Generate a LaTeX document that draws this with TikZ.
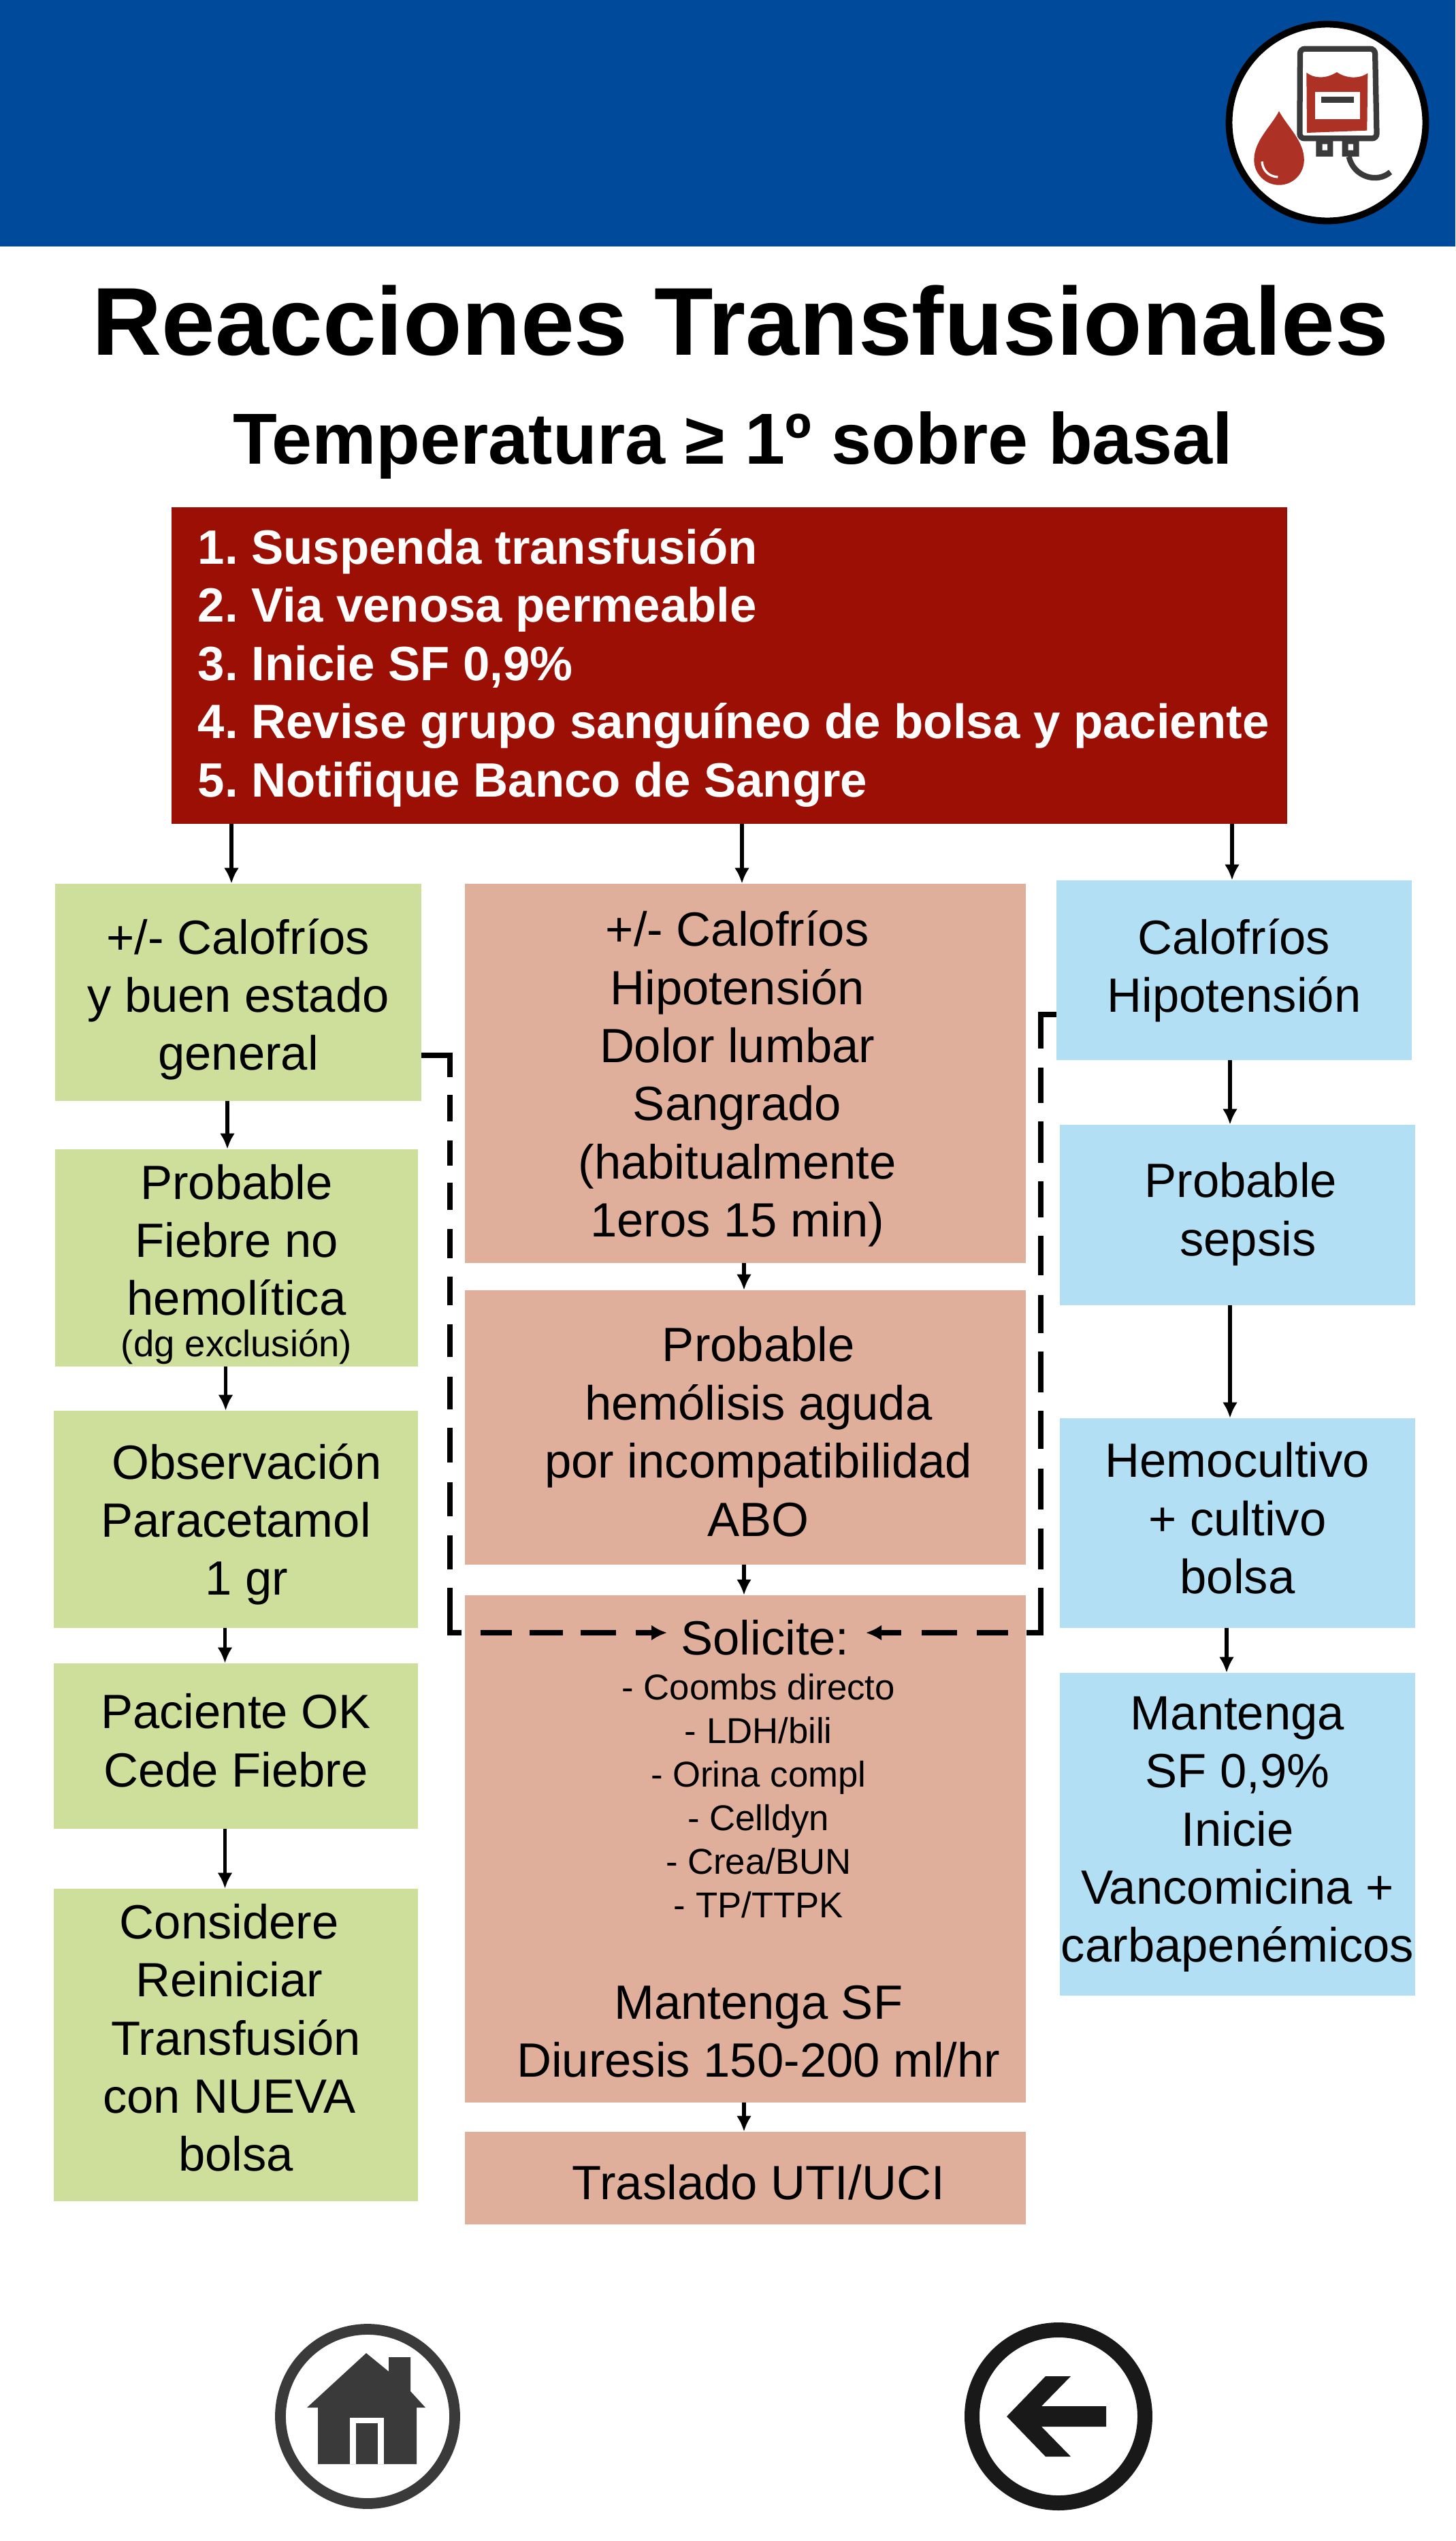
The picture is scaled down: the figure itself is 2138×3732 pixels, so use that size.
\documentclass[tikz,border=0pt]{standalone}
\usepackage{fontspec}
\setmainfont{Liberation Sans}
\frenchspacing
\usetikzlibrary{arrows.meta,positioning,calc}
\definecolor{headblue}{HTML}{004A9B}
\definecolor{redbox}{HTML}{9B0F05}
\definecolor{grnbox}{HTML}{CEDF9B}
\definecolor{salbox}{HTML}{E0AF9B}
\definecolor{blubox}{HTML}{B2DFF4}
\definecolor{iconred}{HTML}{AD3125}
\definecolor{icondark}{HTML}{3A3A3A}
\newcommand{\shft}[3]{\hspace*{#1}\raisebox{#2}[\height][\depth]{\begin{tabular}{@{}c@{}}#3\end{tabular}}}
\newcommand{\lst}{\fontsize{30}{36.4}\selectfont}
\begin{document}
\begin{tikzpicture}[x=.02cm,y=-.02cm,>=Latex,
 box/.style={inner sep=0pt,align=center,font=\fontsize{40.2}{48.6}\selectfont},
 grn/.style={box,fill=grnbox},
 sal/.style={box,fill=salbox},
 blu/.style={box,fill=blubox},
 arr/.style={->,line width=3.3pt,>={Latex[length=.46cm,width=.44cm]}},
 dsh/.style={->,line width=4.7pt,>={Latex[length=.46cm,width=.46cm]}},
 dshl/.style={dsh,dash pattern=on 1.48cm off .52cm on .78cm off .56cm on .74cm off .5cm on .8cm off .56cm on .86cm off .54cm on .84cm off .56cm on .96cm off .58cm on .96cm off .54cm on 1.02cm off .58cm on 1cm off .56cm on 1cm off .54cm on 1.66cm off .56cm on .92cm off .52cm on .98cm off .52cm on 1.04cm off .58cm on 2cm off 1cm},
 dshr/.style={dsh,dash pattern=on 1.46cm off .56cm on 1.04cm off .54cm on 1.22cm off .54cm on 1.06cm off .54cm on 1.16cm off .58cm on 1.12cm off .54cm on 1.2cm off .54cm on 1.12cm off .58cm on 1.2cm off .56cm on 1.2cm off .54cm on 1.74cm off .54cm on .92cm off .58cm on 1.04cm off .6cm on 2cm off 1cm}]
\useasboundingbox (0,0) rectangle (2138,3732);
% header
\fill[headblue] (0,0) rectangle (2138,362);
\node[circle,draw=black,fill=white,line width=5.6pt,minimum size=5.78cm,inner sep=0pt] (bagicon) at (1950,180) {};
\begin{scope}[shift={(1740,0)},x=.00667cm,y=-.00667cm]
 \draw[icondark,line width=4.7pt,rounded corners=.14cm] (510,215) -- (840,215) -- (848,610) -- (508,610) -- cycle;
 \fill[iconred] (538,320) .. controls (570,345) and (620,350) .. (672,318) .. controls (710,345) and (770,350) .. (808,322) -- (805,575) -- (540,585) -- cycle;
 \fill[white] (575,405) rectangle (775,525);
 \fill[icondark] (603,425) rectangle (748,452);
 \fill[icondark] (580,620) rectangle (655,690) (695,620) rectangle (770,690);
 \fill[white] (608,635) rectangle (630,662) (722,635) rectangle (744,662);
 \draw[icondark,line width=4.7pt] (725,690) .. controls (745,780) and (850,810) .. (908,758);
 \fill[iconred] (417,490) .. controls (380,560) and (307,620) .. (307,705) arc[start angle=180,end angle=360,radius=.735cm] .. controls (527,620) and (455,560) .. (417,490) -- cycle;
 \draw[white,line width=1.9pt] (342,712) .. controls (345,750) and (370,778) .. (412,780);
\end{scope}
% titles
\node[font=\fontsize{80.6}{90}\selectfont\bfseries] (titlea) at (1088,471) {Reacciones Transfusionales};
\node[font=\fontsize{60.4}{66}\selectfont\bfseries] (titleb) at (1077,654) {Temperatura ≥ 1º sobre basal};
% red box
\node[fill=redbox,text=white,inner sep=0pt,minimum width=32.78cm,minimum height=9.3cm,font=\fontsize{40.3}{48.6}\selectfont\bfseries] (red) at (1071.5,977.5)
 {\hspace*{7pt}\raisebox{-2.7pt}[\height][\depth]{\begin{tabular}{@{}l@{}}1. Suspenda transfusión\\2. Via venosa permeable\\3. Inicie SF 0,9\%\\4. Revise grupo sanguíneo de bolsa y paciente\\5. Notifique Banco de Sangre\end{tabular}}};
% left column
\node[grn,minimum width=10.76cm,minimum height=6.38cm] (ga) at (350,1457.5) {\shft{0pt}{-6.8pt}{+/- Calofríos\\y buen estado\\general}};
\node[grn,minimum width=10.66cm,minimum height=6.38cm] (gb) at (347.5,1847.5)
 {\shft{0pt}{-7pt}{Probable\\Fiebre no\\hemolítica\\[-14pt]{\fontsize{31}{36}\selectfont (dg exclusión)}}};
\node[grn,minimum width=10.7cm,minimum height=6.38cm] (gc) at (346.5,2231.5) {\shft{0pt}{-5pt}{\hspace*{18pt}Observación\\Paracetamol\\\hspace*{18pt}1 gr}};
\node[grn,minimum width=10.7cm,minimum height=4.86cm] (gd) at (346.5,2564.5) {\shft{0pt}{0pt}{Paciente OK\\Cede Fiebre}};
\node[grn,minimum width=10.7cm,minimum height=9.18cm] (ge) at (346.5,3003.5) {\shft{0pt}{1.4pt}{\hspace*{-11pt}Considere\\\hspace*{-11pt}Reiniciar\\Transfusión\\\hspace*{-11pt}con NUEVA\\bolsa}};
% middle column
\node[sal,minimum width=16.48cm,minimum height=11.14cm] (sa) at (1095,1576.5)
 {\shft{-13.5pt}{-5.4pt}{+/- Calofríos\\Hipotensión\\Dolor lumbar\\Sangrado\\(habitualmente\\1eros 15 min)}};
\node[sal,minimum width=16.48cm,minimum height=8.06cm] (sb) at (1095,2096.5)
 {\shft{22pt}{-8.2pt}{Probable\\hemólisis aguda\\por incompatibilidad\\ABO}};
\node[sal,minimum width=16.48cm,minimum height=14.9cm] (sc) at (1095,2715.5)
 {\shft{22pt}{-4.5pt}{\hspace*{11pt}Solicite:\\[-10.8pt]\lst - Coombs directo\\[-12.2pt]\lst - LDH/bili\\[-12.2pt]\lst - Orina compl\\[-12.2pt]\lst - Celldyn\\[-12.2pt]\lst - Crea/BUN\\[-12.2pt]\lst - TP/TTPK\\[36.4pt]Mantenga SF\\Diuresis 150-200 ml/hr}};
\node[sal,minimum width=16.48cm,minimum height=2.72cm] (sd) at (1095,3199) {\shft{22pt}{-8pt}{Traslado UTI/UCI}};
% right column
\node[blu,minimum width=10.44cm,minimum height=5.28cm] (ba) at (1813,1425) {Calofríos\\Hipotensión};
\node[blu,minimum width=10.44cm,minimum height=5.3cm] (bb) at (1818,1784.5) {\shft{5.4pt}{0pt}{Probable\\\hspace*{12pt}sepsis}};
\node[blu,minimum width=10.44cm,minimum height=6.16cm] (bc) at (1818,2237) {\shft{0pt}{-.7pt}{Hemocultivo\\+ cultivo\\bolsa}};
\node[blu,minimum width=10.44cm,minimum height=9.48cm] (bd) at (1818,2694) {Mantenga\\SF 0,9\%\\Inicie\\Vancomicina +\\carbapenémicos};
% arrows
\draw[arr] ([xshift=-.2cm]ga.north |- red.south) -- ([xshift=-.2cm]ga.north);
\draw[arr] ([xshift=-.1cm]sa.north |- red.south) -- ([xshift=-.1cm]sa.north);
\draw[arr] ([xshift=-.06cm]ba.north |- red.south) -- ([xshift=-.06cm]ba.north);
\foreach \from/\to in {ga/gb,gb/gc,gc/gd,gd/ge}
 \draw[arr] ([xshift=-.32cm]\from.south) -- ([xshift=-.32cm]\from.south |- \to.north);
\foreach \from/\to in {sa/sb,sb/sc,sc/sd}
 \draw[arr] ([xshift=-.04cm]\from.south) -- ([xshift=-.04cm]\from.south |- \to.north);
\draw[arr] ([xshift=-.12cm]ba.south) -- ([xshift=-.12cm]ba.south |- bb.north);
\draw[arr] ([xshift=-.22cm]bb.south) -- ([xshift=-.22cm]bb.south |- bc.north);
\draw[arr] ([xshift=-.32cm]bc.south) -- ([xshift=-.32cm]bc.south |- bd.north);
% dashed feedback into Solicite
\coordinate (solL) at (980,2398);
\coordinate (solR) at (1272,2398);
\coordinate (bendL) at (661,1550);
\coordinate (bendR) at (1529,1490);
\draw[dshl] (ga.east |- bendL) -- (bendL) -- (bendL |- solL) -- (solL);
\draw[dshr] (ba.west |- bendR) -- (bendR) -- (bendR |- solR) -- (solR);
% home
\draw[icondark,line width=9pt] (540,3549) circle[radius=128];
\fill[icondark] (538,3456) -- (571,3483) -- (571,3462) -- (603,3462) -- (603,3512) -- (625,3536) -- (612,3536) -- (612,3619) -- (467,3619) -- (467,3536) -- (451,3536) -- cycle;
\fill[white] (514,3551) rectangle (564,3619);
\fill[icondark] (523,3559) rectangle (555,3619);
% back
\draw[black!90,line width=12.5pt] (1555,3549) circle[radius=127];
\fill[black!90] (1479,3549) -- (1536,3490) -- (1573,3490) -- (1530,3534) -- (1625,3534) -- (1625,3564) -- (1530,3564) -- (1573,3608) -- (1536,3608) -- cycle;
\end{tikzpicture}
\end{document}
